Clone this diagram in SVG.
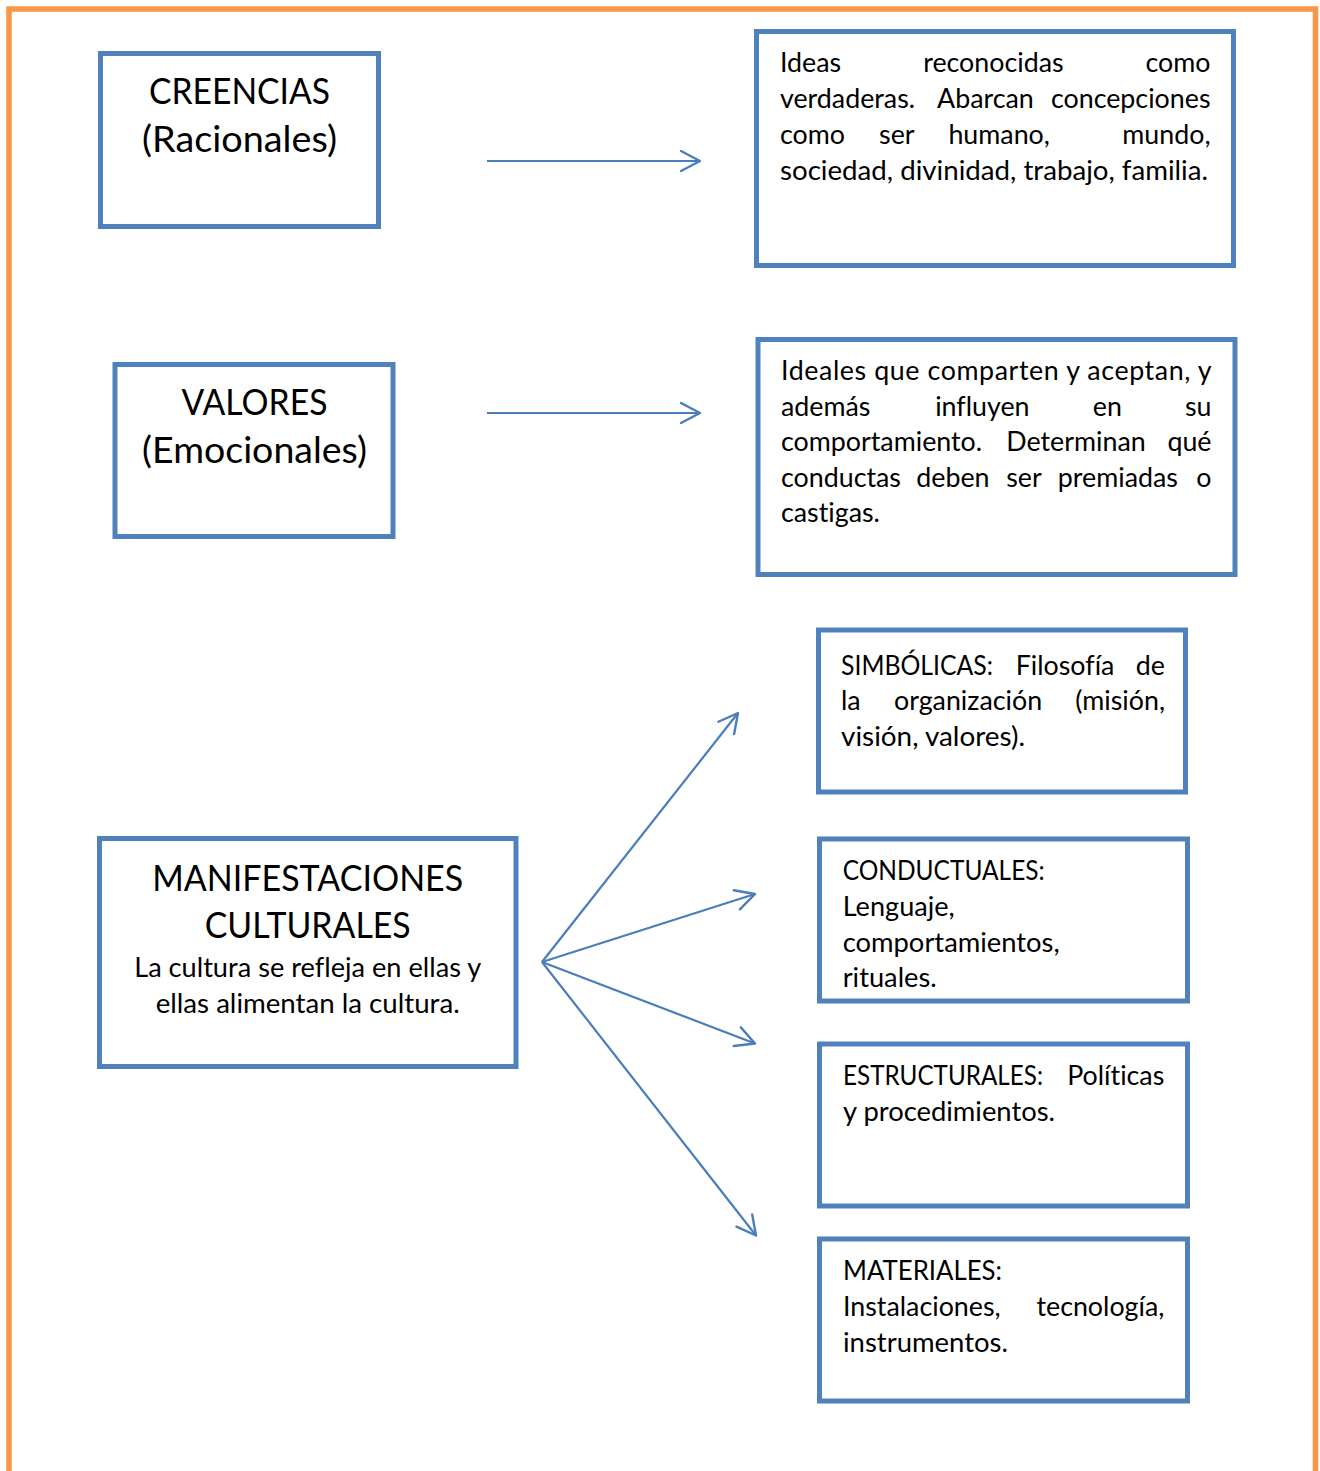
<svg xmlns="http://www.w3.org/2000/svg" width="1320" height="1471" viewBox="0 0 1320 1471">
<style>
.frame{fill:none;stroke:#F79646;stroke-width:5.5}
.box{fill:#fff;stroke:#4F81BD;stroke-width:5}
text{font-variant-ligatures:none;font-feature-settings:"liga" 0,"dlig" 0}
.h{font-family:Lato,"Liberation Sans",sans-serif;font-size:36px;fill:#000;text-anchor:middle}
.b{font-family:Lato,"Liberation Sans",sans-serif;font-size:26.8px;fill:#000}
.c{text-anchor:middle}
.e{text-anchor:end}
.conn line{stroke:#4A7EBB;stroke-width:2.2;marker-end:url(#arr)}
</style>
<defs>
<marker id="arr" markerUnits="userSpaceOnUse" markerWidth="30" markerHeight="30" viewBox="-25 -15 30 30" refX="0" refY="0" orient="auto">
<path d="M-19,-10 L0,0 L-19,10" fill="none" stroke="#4A7EBB" stroke-width="2.4" stroke-linecap="round" stroke-linejoin="round"/>
</marker>
</defs>
<rect width="1320" height="1471" fill="#fff"/>
<rect class="frame" x="9" y="9" width="1306.5" height="1500"/>

<g id="creencias">
<rect class="box" x="100.5" y="53.5" width="278" height="173"/>
<text class="h" x="239.5" y="104" textLength="181" lengthAdjust="spacingAndGlyphs">CREENCIAS</text>
<text class="h" x="239.5" y="151.5" textLength="195" lengthAdjust="spacingAndGlyphs">(Racionales)</text>
</g>

<g id="creencias-def">
<rect class="box" x="756.5" y="31.5" width="477" height="234"/>
<text class="b" y="72.3"><tspan x="780">Ideas</tspan><tspan x="923.2">reconocidas</tspan><tspan class="e" x="1210.5">como</tspan></text>
<text class="b" y="108.3"><tspan x="780">verdaderas.</tspan><tspan x="937.1">Abarcan</tspan><tspan class="e" x="1210.5">concepciones</tspan></text>
<text class="b" y="144"><tspan x="780">como</tspan><tspan x="879.1">ser</tspan><tspan x="948.4">humano,</tspan><tspan class="e" x="1210.5">mundo,</tspan></text>
<text class="b" x="780" y="180" textLength="428" lengthAdjust="spacingAndGlyphs">sociedad, divinidad, trabajo, familia.</text>
</g>

<g id="valores">
<rect class="box" x="115" y="364.5" width="278" height="172"/>
<text class="h" x="254.5" y="415" textLength="146" lengthAdjust="spacingAndGlyphs">VALORES</text>
<text class="h" x="254.5" y="463" textLength="225" lengthAdjust="spacingAndGlyphs">(Emocionales)</text>
</g>

<g id="valores-def">
<rect class="box" x="758" y="339.5" width="477" height="235"/>
<text class="b" x="781" y="380" textLength="430.5" lengthAdjust="spacing">Ideales que comparten y aceptan, y</text>
<text class="b" y="415.5"><tspan x="781">además</tspan><tspan x="935.2">influyen</tspan><tspan x="1092.8">en</tspan><tspan class="e" x="1211.5">su</tspan></text>
<text class="b" y="451"><tspan x="781">comportamiento.</tspan><tspan x="1006.3">Determinan</tspan><tspan class="e" x="1211.5">qué</tspan></text>
<text class="b" y="486.5"><tspan x="781">conductas</tspan><tspan x="916.3">deben</tspan><tspan x="1006.2">ser</tspan><tspan x="1057.8">premiadas</tspan><tspan class="e" x="1211.5">o</tspan></text>
<text class="b" x="781" y="522">castigas.</text>
</g>

<g id="manifestaciones">
<rect class="box" x="99.5" y="838.5" width="416.5" height="228"/>
<text class="h" x="307.7" y="891" textLength="311" lengthAdjust="spacingAndGlyphs">MANIFESTACIONES</text>
<text class="h" x="307.7" y="938.3" textLength="206" lengthAdjust="spacingAndGlyphs">CULTURALES</text>
<text class="b c" x="307.7" y="977" textLength="347" lengthAdjust="spacingAndGlyphs">La cultura se refleja en ellas y</text>
<text class="b c" x="307.7" y="1013" textLength="304" lengthAdjust="spacingAndGlyphs">ellas alimentan la cultura.</text>
</g>

<g id="simbolicas">
<rect class="box" x="818.5" y="630" width="367" height="162"/>
<text class="b" y="675"><tspan x="841" textLength="152" lengthAdjust="spacingAndGlyphs">SIMBÓLICAS:</tspan><tspan x="1015.7">Filosofía</tspan><tspan class="e" x="1165">de</tspan></text>
<text class="b" y="710"><tspan x="841">la</tspan><tspan x="894">organización</tspan><tspan class="e" x="1165">(misión,</tspan></text>
<text class="b" x="841" y="746" textLength="184" lengthAdjust="spacingAndGlyphs">visión, valores).</text>
</g>

<g id="conductuales">
<rect class="box" x="819.5" y="839" width="368" height="162"/>
<text class="b" x="842.7" y="880" textLength="202" lengthAdjust="spacingAndGlyphs">CONDUCTUALES:</text>
<text class="b" x="842.7" y="916" textLength="112" lengthAdjust="spacingAndGlyphs">Lenguaje,</text>
<text class="b" x="842.7" y="951.7" textLength="217" lengthAdjust="spacingAndGlyphs">comportamientos,</text>
<text class="b" x="842.7" y="987.3" textLength="94" lengthAdjust="spacingAndGlyphs">rituales.</text>
</g>

<g id="estructurales">
<rect class="box" x="819.5" y="1044" width="368" height="162"/>
<text class="b" y="1085"><tspan x="843" textLength="200" lengthAdjust="spacingAndGlyphs">ESTRUCTURALES:</tspan><tspan class="e" x="1164.3">Políticas</tspan></text>
<text class="b" x="843" y="1121" textLength="212" lengthAdjust="spacingAndGlyphs">y procedimientos.</text>
</g>

<g id="materiales">
<rect class="box" x="819.5" y="1239" width="368" height="162"/>
<text class="b" x="843" y="1280" textLength="159" lengthAdjust="spacingAndGlyphs">MATERIALES:</text>
<text class="b" y="1316"><tspan x="843">Instalaciones,</tspan><tspan class="e" x="1164.3">tecnología,</tspan></text>
<text class="b" x="843" y="1351.7" textLength="165" lengthAdjust="spacingAndGlyphs">instrumentos.</text>
</g>

<g id="connectors" class="conn">
<line x1="487" y1="161" x2="700" y2="161"/>
<line x1="487" y1="413" x2="700" y2="413"/>
<line x1="542" y1="962" x2="738" y2="713"/>
<line x1="542" y1="962" x2="755" y2="894"/>
<line x1="542" y1="962" x2="755" y2="1043.5"/>
<line x1="542" y1="962" x2="756" y2="1235.5"/>
</g>
</svg>
